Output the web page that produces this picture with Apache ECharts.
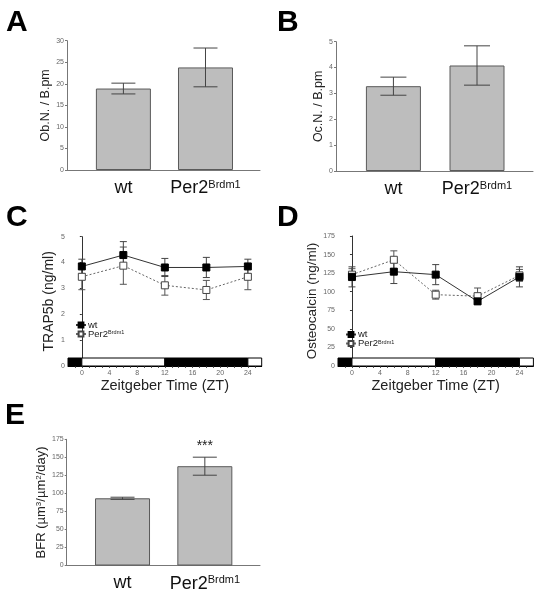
<!DOCTYPE html>
<html><head><meta charset="utf-8">
<script src="https://cdn.jsdelivr.net/npm/echarts@6/dist/echarts.min.js"></script>
<style>html,body{margin:0;padding:0;background:#fff}#c{width:537px;height:593px}</style>
</head><body><div id="c"></div>
<script>
const FONT = '"Liberation Sans", Arial, Helvetica, sans-serif';

// ---- Bar panels (A, B, E) ----
const barCategories = ['wt', 'Per2'];
const barCategorySup = ['', 'Brdm1'];
const obNMeans = [18.9, 23.8];
const obNErrors = [1.25, 4.5];
const ocNMeans = [3.28, 4.08];
const ocNErrors = [0.35, 0.76];
const bfrMeans = [93.2, 137.7];
const bfrErrors = [1.5, 12.5];
const bfrSignificance = ['', '***'];

// ---- Time course panels (C, D) ----
const ztHours = [0, 6, 12, 18, 24];
const trapWt = [3.85, 4.29, 3.81, 3.81, 3.85];
const trapWtErr = [0.28, 0.52, 0.35, 0.39, 0.28];
const trapPer2 = [3.45, 3.88, 3.12, 2.94, 3.45];
const trapPer2Err = [0.5, 0.72, 0.38, 0.37, 0.5];
const ocWt = [120, 127, 123, 87, 120];
const ocWtErr = [13.5, 16, 13.5, 3.5, 13.5];
const ocPer2 = [123, 143, 96, 94, 122];
const ocPer2Err = [8, 12, 6, 11, 8];
const ztTickLabels = [0, 4, 8, 12, 16, 20, 24];
const ldStarts = [-2, 0, 12, 24];
const ldEnds = [0, 12, 24, 26];
const ldDark = [1, 0, 1, 0];

const ztMinorTicks = [];
for (let t = -1; t <= 25; t++) ztMinorTicks.push(t);

function catLabel(i) {
  return barCategories[i] + (barCategorySup[i] ? '{sup|' + barCategorySup[i] + '}' : '');
}

const grids = [
  {left: 67, top: 40.7, width: 193, height: 129.3},
  {left: 336, top: 41.7, width: 197, height: 129.3},
  {left: 68, top: 236.7, width: 193.7, height: 129.3},
  {left: 338, top: 236, width: 195.4, height: 130},
  {left: 66.7, top: 439.3, width: 193.3, height: 128.4}
];

function barX(gi, min, max) {
  return {
    type: 'value', gridIndex: gi, min: min, max: max, splitLine: {show: false},
    axisLine: {show: true, lineStyle: {color: '#777', width: 1}},
    axisTick: {show: false},
    axisLabel: {
      customValues: [1, 2], fontFamily: FONT, fontSize: 18, color: '#111', margin: 9,
      formatter: function (v) { return catLabel(Math.round(v) - 1); },
      rich: {sup: {fontFamily: FONT, fontSize: 11, color: '#111', padding: [0, 0, 8, 0]}}
    }
  };
}
function ztX(gi) {
  return {
    type: 'value', gridIndex: gi, min: -2, max: 26, splitLine: {show: false},
    axisLine: {show: true, lineStyle: {color: '#000', width: 1}},
    axisTick: {show: true, customValues: ztMinorTicks, length: 2, lineStyle: {color: '#555'}},
    axisLabel: {customValues: ztTickLabels, fontFamily: FONT, fontSize: 7, color: '#666', margin: 4},
    name: 'Zeitgeber Time (ZT)', nameLocation: 'middle', nameGap: 12,
    nameTextStyle: {fontFamily: FONT, fontSize: 14.5, color: '#222'}
  };
}
function yAx(gi, max, interval, name, nameSize, nameGap, lineColor, rich) {
  return {
    type: 'value', gridIndex: gi, min: 0, max: max, interval: interval,
    name: name, nameLocation: 'middle', nameGap: nameGap,
    nameTextStyle: {fontFamily: FONT, fontSize: nameSize, color: '#222', rich: rich || {}},
    splitLine: {show: false},
    axisLine: {show: true, lineStyle: {color: lineColor}},
    axisTick: {show: true, length: 2, lineStyle: {color: lineColor}},
    axisLabel: {fontFamily: FONT, fontSize: 7, color: '#666', margin: 3}
  };
}

function errRender(capW, color, sig) {
  return function (params, api) {
    const x = api.value(0), v = api.value(1), e = api.value(2);
    const top = api.coord([x, v + e]), bot = api.coord([x, v - e]);
    const st = {stroke: color, lineWidth: 1};
    const ch = [
      {type: 'line', shape: {x1: top[0], y1: top[1], x2: bot[0], y2: bot[1]}, style: st},
      {type: 'line', shape: {x1: top[0] - capW / 2, y1: top[1], x2: top[0] + capW / 2, y2: top[1]}, style: st},
      {type: 'line', shape: {x1: bot[0] - capW / 2, y1: bot[1], x2: bot[0] + capW / 2, y2: bot[1]}, style: st}
    ];
    if (sig && sig[params.dataIndex]) {
      ch.push({type: 'text', style: {text: sig[params.dataIndex], x: top[0], y: top[1] - 4,
        align: 'center', verticalAlign: 'bottom', fontFamily: FONT, fontSize: 14, fill: '#222'}});
    }
    return {type: 'group', children: ch};
  };
}

function barSeries(gi, means, errs, capW, sig) {
  return [
    {type: 'bar', xAxisIndex: gi, yAxisIndex: gi, barWidth: 55, silent: true,
      data: means.map(function (m, i) { return [i + 1, m]; }),
      itemStyle: {color: '#bdbdbd', borderColor: '#5a5a5a', borderWidth: 1}},
    {type: 'custom', xAxisIndex: gi, yAxisIndex: gi, silent: true, z: 5,
      renderItem: errRender(capW, '#444', sig),
      data: means.map(function (m, i) { return [i + 1, m, errs[i]]; })}
  ];
}

function ldSeries(gi) {
  return {type: 'custom', xAxisIndex: gi, yAxisIndex: gi, silent: true, z: 4,
    renderItem: function (params, api) {
      const p0 = api.coord([api.value(0), 0]), p1 = api.coord([api.value(1), 0]);
      return {type: 'rect', shape: {x: p0[0], y: p0[1] - 8, width: p1[0] - p0[0], height: 8},
        style: {fill: api.value(2) ? '#000' : '#fff', stroke: '#000', lineWidth: 1}};
    },
    data: ldStarts.map(function (s, i) { return [s, ldEnds[i], ldDark[i]]; })};
}

function timeSeries(gi, wt, wtErr, p2, p2Err) {
  return [
    {type: 'custom', xAxisIndex: gi, yAxisIndex: gi, silent: true, z: 2,
      renderItem: errRender(7, '#555'), data: ztHours.map(function (h, i) { return [h, p2[i], p2Err[i]]; })},
    {type: 'custom', xAxisIndex: gi, yAxisIndex: gi, silent: true, z: 2,
      renderItem: errRender(7, '#444'), data: ztHours.map(function (h, i) { return [h, wt[i], wtErr[i]]; })},
    {name: 'Per2', type: 'line', xAxisIndex: gi, yAxisIndex: gi, z: 3,
      symbol: 'rect', symbolSize: 7, showAllSymbol: true,
      lineStyle: {color: '#666', width: 1, type: [2, 2]},
      itemStyle: {color: '#fff', borderColor: '#444', borderWidth: 1},
      data: ztHours.map(function (h, i) { return [h, p2[i]]; })},
    {name: 'wt', type: 'line', xAxisIndex: gi, yAxisIndex: gi, z: 4,
      symbol: 'rect', symbolSize: 7, showAllSymbol: true,
      lineStyle: {color: '#333', width: 1},
      itemStyle: {color: '#000', borderColor: '#000', borderWidth: 1},
      data: ztHours.map(function (h, i) { return [h, wt[i]]; })}
  ];
}

function legendAt(left, top) {
  return {
    left: left, top: top, orient: 'vertical', itemWidth: 10, itemHeight: 6, itemGap: -1,
    padding: 0, selectedMode: false, data: ['wt', 'Per2'],
    formatter: function (n) { const i = barCategories.indexOf(n); return catLabel(i); },
    textStyle: {fontFamily: FONT, fontSize: 9.5, color: '#222', lineHeight: 8, padding: [0, 0, 0, -3],
      rich: {sup: {fontFamily: FONT, fontSize: 5.5, color: '#222', padding: [0, 0, 3, 0]}}}
  };
}

function letter(t, left, top) {
  return {text: t, left: left, top: top, padding: 0,
    textStyle: {fontFamily: FONT, fontWeight: 'bold', fontSize: 30, color: '#000'}};
}

const supRich = {s: {fontFamily: FONT, fontSize: 8, color: '#222', padding: [0, 0, 6, 0]}};

const option = {
  animation: false,
  backgroundColor: '#fff',
  title: [letter('A', 6, 8), letter('B', 277, 8), letter('C', 6, 203), letter('D', 277, 203), letter('E', 5, 401)],
  legend: [legendAt(75, 320), legendAt(345, 329.5)],
  grid: grids,
  xAxis: [barX(0, 0.313, 2.664), barX(1, 0.313, 2.67), ztX(2), ztX(3), barX(4, 0.322, 2.67)],
  yAxis: [
    yAx(0, 30, 5, 'Ob.N. / B.pm', 12.5, 12, '#777'),
    yAx(1, 5, 1, 'Oc.N. / B.pm', 12.5, 8.5, '#777'),
    yAx(2, 5, 1, 'TRAP5b (ng/ml)', 14, 12, '#333'),
    yAx(3, 175, 25, 'Osteocalcin (ng/ml)', 13.5, 16, '#333'),
    yAx(4, 175, 25, 'BFR (µm{s|3}/µm{s|2}/day)', 13, 12, '#777', supRich)
  ],
  series: [].concat(
    barSeries(0, obNMeans, obNErrors, 24),
    barSeries(1, ocNMeans, ocNErrors, 26),
    ldSeries(2), timeSeries(2, trapWt, trapWtErr, trapPer2, trapPer2Err),
    ldSeries(3), timeSeries(3, ocWt, ocWtErr, ocPer2, ocPer2Err),
    barSeries(4, bfrMeans, bfrErrors, 24, bfrSignificance)
  )
};

const chart = echarts.init(document.getElementById('c'), null, {renderer: 'canvas'});
chart.setOption(option);
</script>
</body></html>
